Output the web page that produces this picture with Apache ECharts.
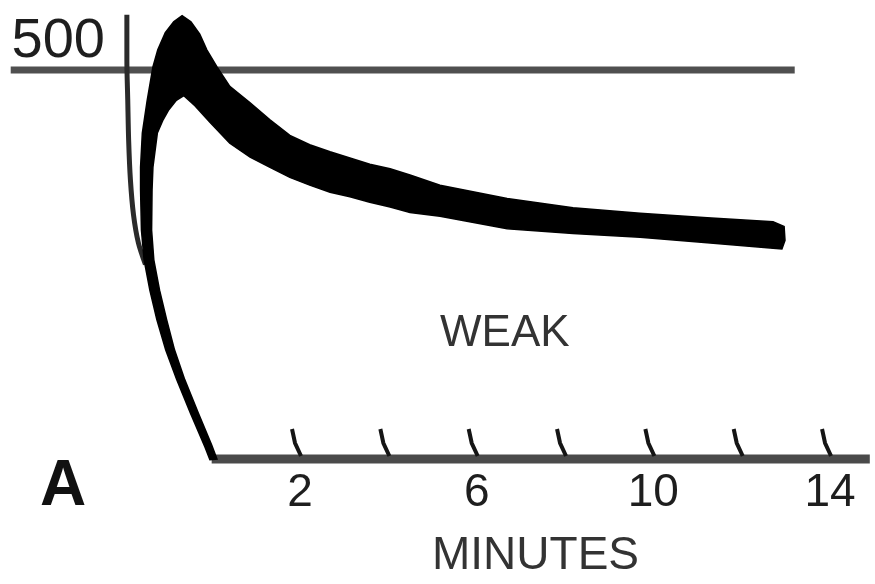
<!DOCTYPE html>
<html>
<head>
<meta charset="utf-8">
<script src="https://cdn.jsdelivr.net/npm/echarts@6/dist/echarts.min.js"></script>
<style>
html,body{margin:0;padding:0;background:#fff;}
#chart{width:875px;height:584px;}
</style>
</head>
<body>
<div id="chart"></div>
<script>
// ---- data (t in minutes, v in tension units) ----
const xTickValues = [2, 4, 6, 8, 10, 12, 14];
const xLabelValues = [2, 6, 10, 14];
const yLabelValues = [500];
const referenceLevel = [[-4.55, 500], [13.2, 500]];
const baseline = [[0, 0], [14.9, 0]];
// thin fast trace (left), meets the band on its way down
const thinTrace = [[-1.92, 571], [-1.92, 513], [-1.90, 461], [-1.88, 410], [-1.84, 359], [-1.77, 314], [-1.66, 278], [-1.50, 250]];
// thick band: outer edge (from baseline up the rise, over the peak, along the top of the decay)
const bandOuter = [[-0.04, -1], [-0.15, 15], [-0.48, 59], [-0.79, 102], [-1.04, 140], [-1.24, 179], [-1.40, 217], [-1.53, 256], [-1.59, 294], [-1.61, 346], [-1.61, 375], [-1.57, 419], [-1.46, 461], [-1.33, 504], [-1.22, 526], [-1.05, 548], [-0.86, 562], [-0.67, 570], [-0.47, 562], [-0.27, 546], [-0.11, 526], [0.12, 504], [0.41, 479], [0.87, 458], [1.32, 436], [1.77, 416], [2.22, 404], [2.68, 395], [3.13, 387], [3.58, 379], [4.04, 373], [4.49, 365], [5.17, 352], [6.69, 335], [8.18, 323], [9.70, 316], [11.22, 310], [12.71, 305], [12.96, 299], [12.98, 281], [12.91, 270]];
// thick band: inner edge (from the end of the decay back to the peak and down the rise)
const bandInner = [[12.71, 271], [11.22, 278], [9.70, 285], [8.18, 290], [6.69, 296], [5.17, 312], [4.49, 317], [4.04, 324], [3.58, 330], [3.13, 337], [2.68, 343], [2.22, 352], [1.77, 362], [1.32, 375], [0.87, 388], [0.41, 406], [-0.04, 433], [-0.38, 454], [-0.63, 467], [-0.80, 461], [-0.97, 449], [-1.10, 436], [-1.23, 419], [-1.33, 375], [-1.35, 346], [-1.36, 294], [-1.31, 256], [-1.18, 217], [-1.02, 179], [-0.84, 140], [-0.61, 102], [-0.31, 60], [0.0, 18], [0.12, 0]];

const chart = echarts.init(document.getElementById('chart'), null, {renderer: 'canvas'});
const FONT = 'Liberation Sans, Arial, sans-serif';
const ink = '#1e1e1e';

chart.setOption({
  animation: false,
  backgroundColor: '#ffffff',
  grid: {left: 8.5, right: 5.2, top: 7.8, bottom: 125, containLabel: false},
  xAxis: {
    type: 'value', min: -4.6, max: 14.9,
    axisLine: {show: false}, axisTick: {show: false}, splitLine: {show: false},
    axisLabel: {
      customValues: xLabelValues, fontSize: 46, color: ink, fontFamily: FONT, margin: 11
    }
  },
  yAxis: {
    type: 'value', min: 0, max: 580,
    axisLine: {show: false}, axisTick: {show: false}, splitLine: {show: false},
    axisLabel: {
      customValues: yLabelValues, inside: true, margin: 3, fontSize: 56,
      color: ink, fontFamily: FONT, verticalAlign: 'bottom', align: 'left'
    }
  },
  graphic: [
    {type: 'text', left: 440, top: 312, style: {text: 'WEAK', fontSize: 44, fill: '#333', fontFamily: FONT}},
    {type: 'text', left: 432, top: 533, style: {text: 'MINUTES', fontSize: 46, fill: '#333', fontFamily: FONT}},
    {type: 'text', left: 40, top: 455, style: {text: 'A', fontSize: 64, fontWeight: 'bold', fill: '#111', fontFamily: FONT}}
  ],
  series: [
    {
      type: 'line', name: 'reference', data: referenceLevel, symbol: 'none', clip: false, z: 1,
      lineStyle: {color: '#505050', width: 7}, silent: true
    },
    {
      type: 'line', name: 'baseline', data: baseline, symbol: 'none', clip: false, z: 1,
      lineStyle: {color: '#4a4a4a', width: 9}, silent: true
    },
    {
      type: 'line', name: 'thin', data: thinTrace, symbol: 'none', clip: false, z: 3, smooth: 0.3,
      lineStyle: {color: '#2a2a2a', width: 5}, silent: true
    },
    {
      type: 'custom', name: 'band', clip: false, silent: true, z: 10,
      data: [[0, 0]],
      renderItem: function (params, api) {
        const pts = bandOuter.concat(bandInner).map(p => api.coord(p));
        return {type: 'polygon', z2: 10, shape: {points: pts, smooth: 0}, style: {fill: '#000', stroke: '#000', lineWidth: 1.5}};
      }
    },
    {
      type: 'custom', name: 'ticks', clip: false, silent: true, z: 5,
      data: xTickValues.map(t => [t, 0]),
      renderItem: function (params, api) {
        const p = api.coord([api.value(0), api.value(1)]);
        return {
          type: 'polyline',
          shape: {points: [[p[0] - 8, p[1] - 30], [p[0] - 5, p[1] - 16], [p[0] + 1, p[1] - 3]]},
          style: {stroke: '#151515', lineWidth: 4, fill: null}
        };
      }
    }
  ]
});
</script>
</body>
</html>
